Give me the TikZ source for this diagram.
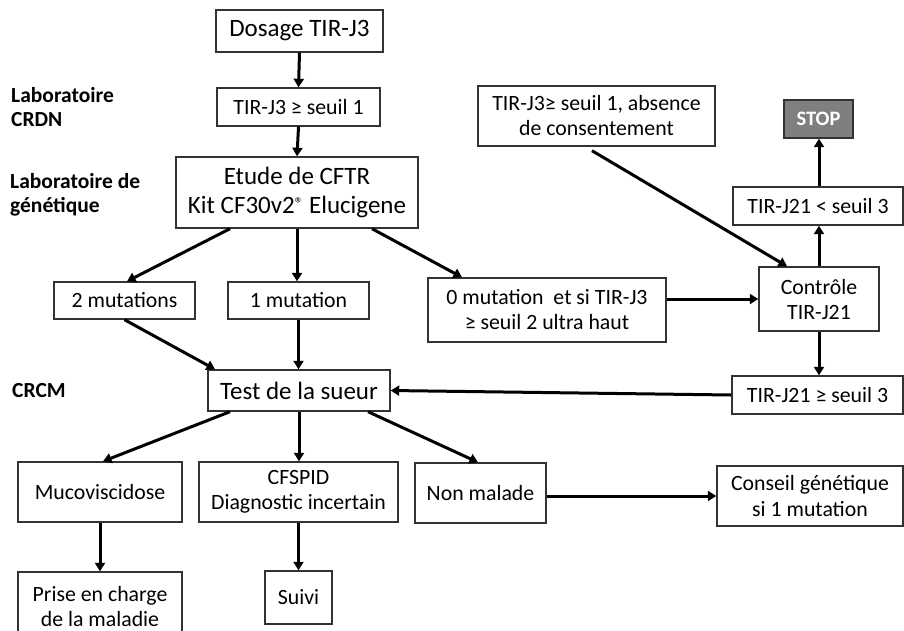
\documentclass[tikz,border=0pt]{standalone}
\usepackage{fontspec}
\setmainfont{Carlito}
\usetikzlibrary{arrows.meta,calc}
\definecolor{boxline}{HTML}{333333}
\definecolor{stopgray}{HTML}{7F7F7F}
\begin{document}
\begin{tikzpicture}[x=1pt,y=-1pt,
  box/.style={draw=boxline, line width=1.4pt, fill=white, inner sep=0pt, align=center,
              font=\fontsize{21.8}{25}\selectfont, text=black},
  big/.style={font=\fontsize{25}{29}\selectfont},
  wh/.style 2 args={minimum width=#1pt, minimum height=#2pt},
  arr/.style={line width=3pt, draw=black, -{Triangle[length=8.5pt,width=10pt]}},
  lab/.style={font=\bfseries\fontsize{21.5}{24.5}\selectfont, align=left, anchor=west, inner sep=0pt, text=black}]
\useasboundingbox[fill=white] (0,0) rectangle (904,630);

% left labels
\node[lab] (lcrdn) at (11,107) {Laboratoire\\CRDN};
\node[lab] (lgen) at (10,195) {Laboratoire de\\génétique};
\node[lab] (lcrcm) at (12,391) {CRCM};

% boxes
\node[box,big,wh={167}{42}] (dosage) at (299.5,31) {Dosage TIR-J3};
\node[box,wh={163}{38}] (tir1) at (298.5,107) {TIR-J3 ≥ seuil 1};
\node[box,big,wh={242}{71}] (etude) at (297,192.5) {Etude de CFTR\\Kit CF30v2\raisebox{0.35ex}{\fontsize{17}{17}\selectfont ®} Elucigene};
\node[box,wh={141}{37}] (mut2) at (124.5,300.5) {2 mutations};
\node[box,wh={141}{37}] (mut1) at (298.5,300.5) {1 mutation};
\node[box,wh={238}{64}] (mut0) at (547,310) {0 mutation\ \ et si TIR-J3\\≥ seuil 2 ultra haut};
\node[box,wh={237}{60}] (absence) at (596.5,116) {TIR-J3≥ seuil 1, absence\\de consentement};
\node[box,wh={69}{38},fill=stopgray,draw=boxline,font=\bfseries\fontsize{20.5}{22}\selectfont,text=white] (stop) at (818.5,119) {STOP};
\node[box,wh={170}{38}] (j21lt) at (818,206) {TIR-J21 < seuil 3};
\node[box,wh={120}{64}] (ctrl) at (819,299) {Contrôle\\TIR-J21};
\node[box,wh={171}{38}] (j21ge) at (817.5,395) {TIR-J21 ≥ seuil 3};
\node[box,big,wh={182}{41}] (sueur) at (299,390.5) {Test de la sueur};
\node[box,wh={164}{60}] (muco) at (100,492) {Mucoviscidose};
\node[box,wh={199}{60}] (cfspid) at (298.5,492) {CFSPID\\Diagnostic incertain};
\node[box,wh={131}{60}] (nonmal) at (480.5,493) {Non malade};
\node[box,wh={186}{60}] (conseil) at (810,496) {Conseil génétique\\si 1 mutation};
\node[box,wh={164}{68}] (prise) at (100,606) {Prise en charge\\de la maladie};
\node[box,wh={67}{53}] (suivi) at (298.5,597.5) {Suivi};

% connectors
\draw[arr] (dosage.south) -- (tir1.north);
\draw[arr] (tir1.south) -- (etude.north);
\draw[arr] ([xshift=-67pt]etude.south) -- ([xshift=2.5pt]mut2.north);
\draw[arr] (etude.south) -- (etude.south |- mut1.north);
\draw[arr] ([xshift=75pt]etude.south) -- ([xshift=-85pt]mut0.north);
\draw[arr] (mut0.east |- ctrl.west) -- (ctrl.west);
\draw[arr] ([xshift=-4.5pt,yshift=-4pt]absence.south) -- ([xshift=-32pt]ctrl.north);
\draw[arr] (ctrl.north) -- (ctrl.north |- j21lt.south);
\draw[arr] (ctrl.north |- j21lt.north) -- (ctrl.north |- stop.south);
\draw[arr] (ctrl.south) -- (ctrl.south |- j21ge.north);
\draw[arr] (j21ge.west) -- (sueur.east);
\draw[arr] (mut2.south) -- ([xshift=-84pt]sueur.north);
\draw[arr] (mut1.south) -- (mut1.south |- sueur.north);
\draw[arr] ([xshift=-69pt]sueur.south) -- ([xshift=3pt]muco.north);
\draw[arr] (sueur.south) -- (sueur.south |- cfspid.north);
\draw[arr] ([xshift=69pt]sueur.south) -- ([xshift=-2.5pt]nonmal.north);
\draw[arr] (nonmal.east |- conseil.west) -- (conseil.west);
\draw[arr] (muco.south) -- (prise.north);
\draw[arr] (cfspid.south) -- (cfspid.south |- suivi.north);
\end{tikzpicture}
\end{document}
